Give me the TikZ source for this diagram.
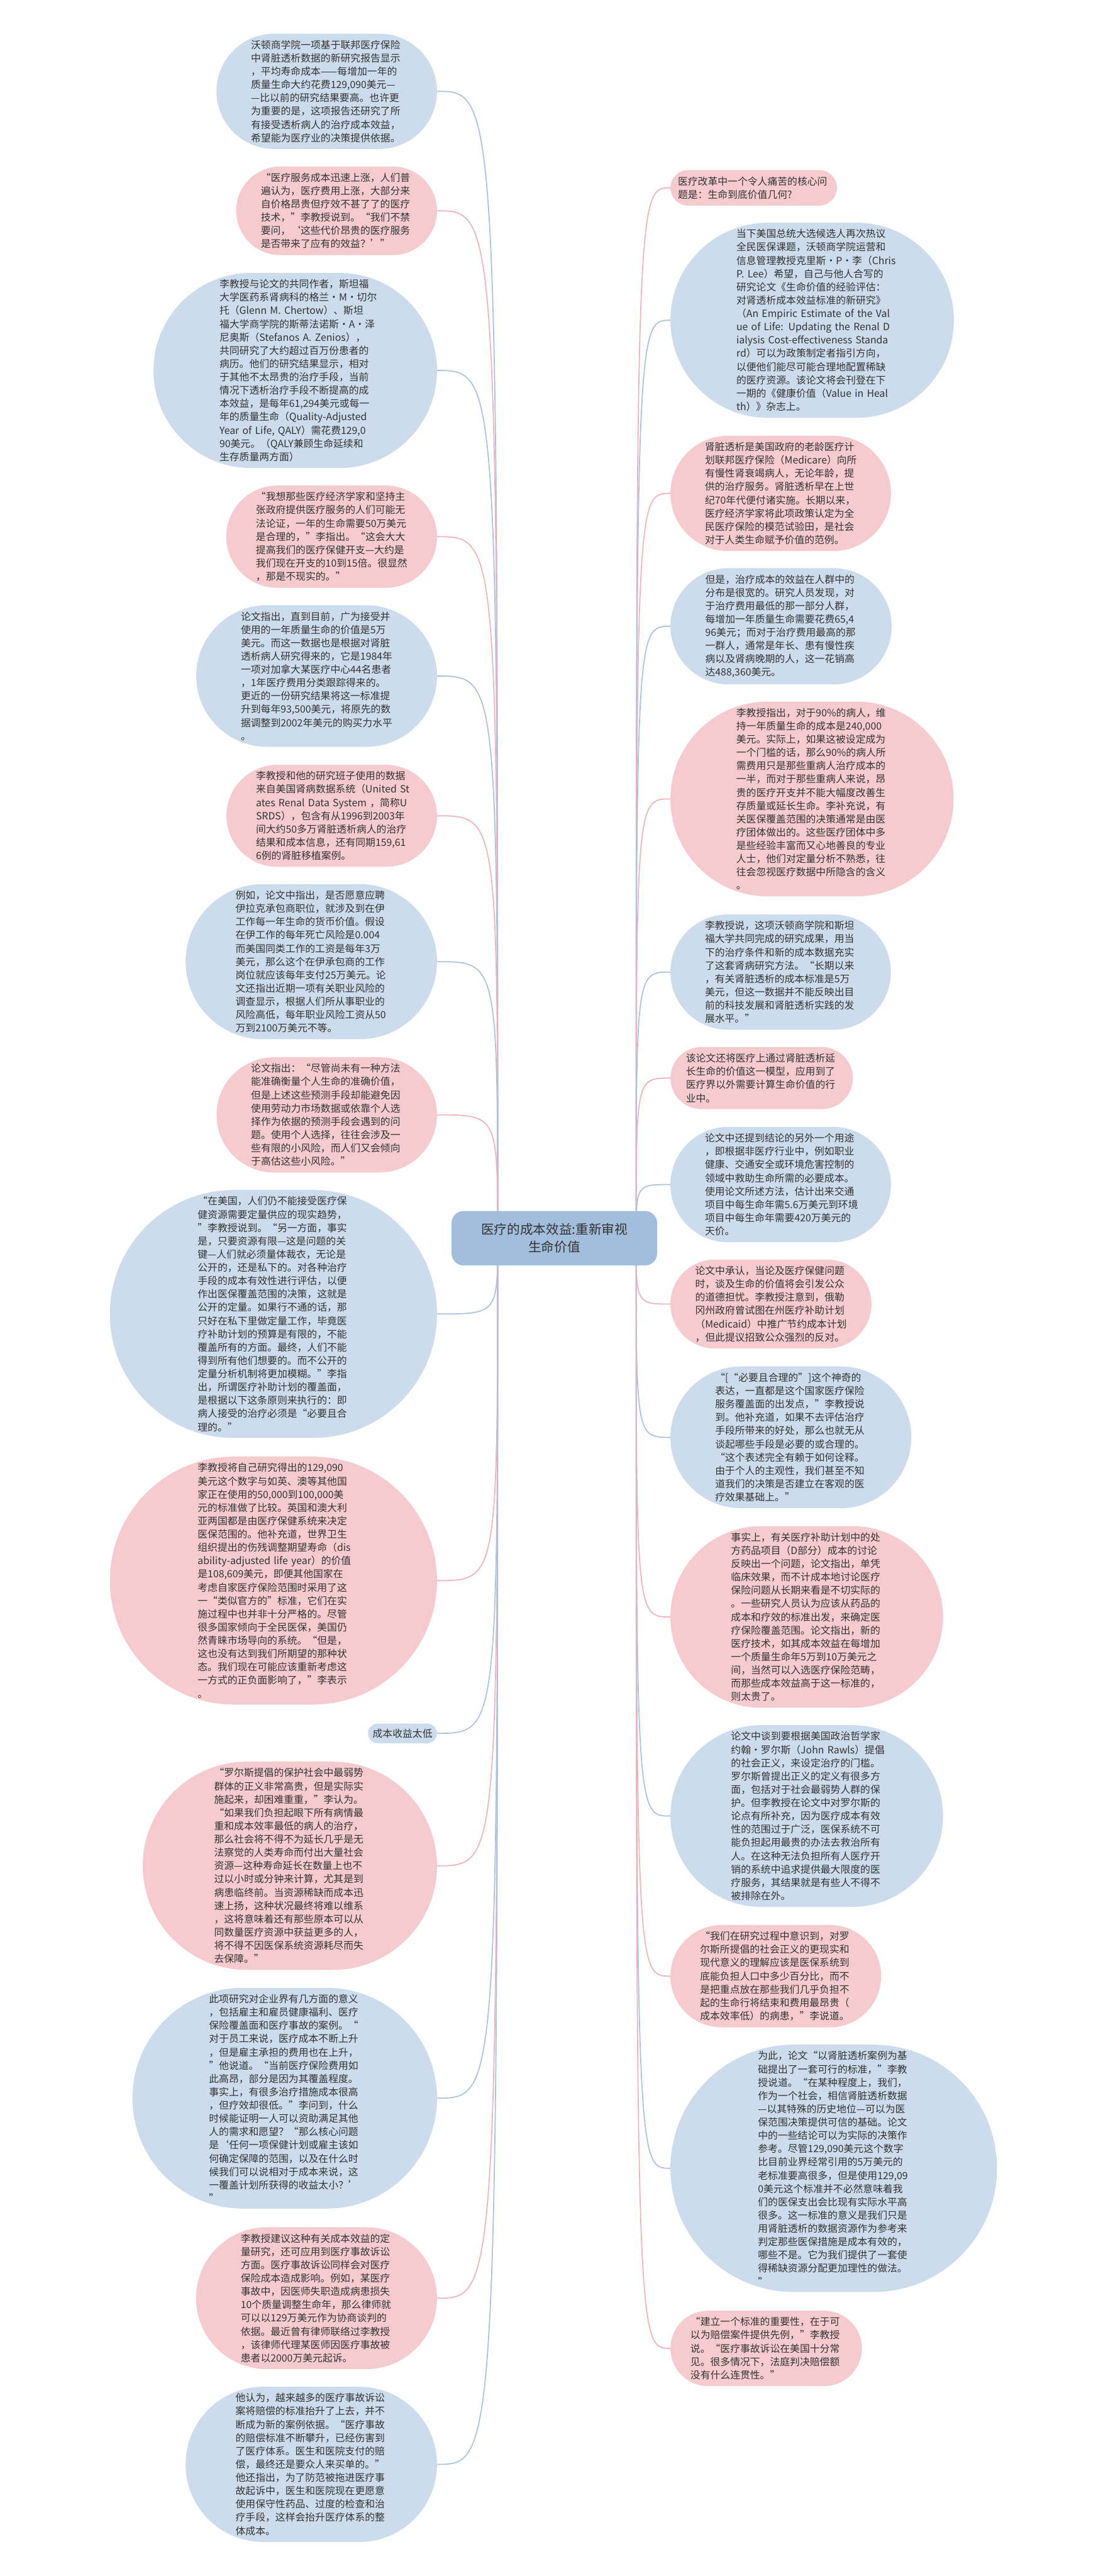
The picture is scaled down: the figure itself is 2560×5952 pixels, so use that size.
\documentclass[tikz,border=0pt]{standalone}
\usepackage{fontspec}
\setmainfont{Noto Sans CJK SC}
\usetikzlibrary{shapes.misc,backgrounds}
\definecolor{ink}{HTML}{333333}
\definecolor{skyfill}{HTML}{CCDCEC}
\definecolor{rosefill}{HTML}{F5CBCF}
\definecolor{rootfill}{HTML}{A2BEDC}
\definecolor{skyline}{HTML}{A9C3DF}
\definecolor{roseline}{HTML}{F0B3B9}
\tikzset{leaf/.style={rounded rectangle,fill=skyfill,text=ink,inner xsep=8pt,inner ysep=15pt,font=\fontsize{23}{30.7}\selectfont},
  roseleaf/.style={leaf,fill=rosefill},
  note/.style={leaf,align=left,text width=350pt},rosenote/.style={note,fill=rosefill},
  root/.style={rectangle,rounded corners=28pt,fill=rootfill,text=ink,align=center,minimum width=475pt,minimum height=126pt,font=\fontsize{30}{40}\selectfont},
  lnk/.style={draw=skyline,line width=2.5pt},roselnk/.style={lnk,draw=roseline}}

\begin{document}
\begin{tikzpicture}[x=1pt,y=1pt]
\useasboundingbox (0,0) rectangle (2560,-5952);
\node[root] (root) at (1281,-2861) {医疗的成本效益:重新审视\\生命价值};
\coordinate (lh) at (1150,-2861);\coordinate (rh) at (1470,-2861);
% left side
\node[note,anchor=east] (wharton) at (1010,-211) {沃顿商学院一项基于联邦医疗保险\\中肾脏透析数据的新研究报告显示\\，平均寿命成本——每增加一年的\\质量生命大约花费129,090美元—\\—比以前的研究结果要高。也许更\\为重要的是，这项报告还研究了所\\有接受透析病人的治疗成本效益，\\希望能为医疗业的决策提供依据。};
\node[rosenote,anchor=east] (soaring) at (1010,-487) {“医疗服务成本迅速上涨，人们普\\遍认为，医疗费用上涨，大部分来\\自价格昂贵但疗效不甚了了的医疗\\技术，”李教授说到。“我们不禁\\要问，‘这些代价昂贵的医疗服务\\是否带来了应有的效益？’”};
\node[note,anchor=east] (coauthors) at (1010,-856) {李教授与论文的共同作者，斯坦福\\大学医药系肾病科的格兰•M•切尔\\\mbox{托（Glenn M. Chertow）、斯坦}\\福大学商学院的斯蒂法诺斯•A•泽\\\mbox{尼奥斯（Stefanos A. Zenios），}\\共同研究了大约超过百万份患者的\\病历。他们的研究结果显示，相对\\于其他不太昂贵的治疗手段，当前\\情况下透析治疗手段不断提高的成\\本效益，是每年61,294美元或每一\\\mbox{年的质量生命（Quality-Adjusted}\\\mbox{Year of Life, QALY）需花费129,0}\\90美元。（QALY兼顾生命延续和\\生存质量两方面）};
\node[rosenote,anchor=east] (halfmillion) at (1010,-1240) {“我想那些医疗经济学家和坚持主\\张政府提供医疗服务的人们可能无\\法论证，一年的生命需要50万美元\\是合理的，”李指出。“这会大大\\提高我们的医疗保健开支—大约是\\我们现在开支的10到15倍。很显然\\，那是不现实的。”};
\node[note,anchor=east] (oldnorm) at (1010,-1562) {论文指出，直到目前，广为接受并\\使用的一年质量生命的价值是5万\\美元。而这一数据也是根据对肾脏\\透析病人研究得来的，它是1984年\\一项对加拿大某医疗中心44名患者\\，1年医疗费用分类跟踪得来的。\\更近的一份研究结果将这一标准提\\升到每年93,500美元，将原先的数\\据调整到2002年美元的购买力水平\\。};
\node[rosenote,anchor=east] (usrds) at (1010,-1885) {李教授和他的研究班子使用的数据\\\mbox{来自美国肾病数据系统（United St}\\\mbox{ates Renal Data System ，简称U}\\SRDS），包含有从1996到2003年\\间大约50多万肾脏透析病人的治疗\\结果和成本信息，还有同期159,61\\6例的肾脏移植案例。};
\node[note,anchor=east] (iraq) at (1010,-2222) {例如，论文中指出，是否愿意应聘\\伊拉克承包商职位，就涉及到在伊\\工作每一年生命的货币价值。假设\\在伊工作的每年死亡风险是0.004\\而美国同类工作的工资是每年3万\\美元，那么这个在伊承包商的工作\\岗位就应该每年支付25万美元。论\\文还指出近期一项有关职业风险的\\调查显示，根据人们所从事职业的\\风险高低，每年职业风险工资从50\\万到2100万美元不等。};
\node[rosenote,anchor=east] (smallrisk) at (1010,-2576) {论文指出：“尽管尚未有一种方法\\能准确衡量个人生命的准确价值，\\但是上述这些预测手段却能避免因\\使用劳动力市场数据或依靠个人选\\择作为依据的预测手段会遇到的问\\题。使用个人选择，往往会涉及一\\些有限的小风险，而人们又会倾向\\于高估这些小风险。”};
\node[note,anchor=east] (rationing) at (1010,-3036) {“在美国，人们仍不能接受医疗保\\健资源需要定量供应的现实趋势，\\”李教授说到。“另一方面，事实\\是，只要资源有限—这是问题的关\\键—人们就必须量体裁衣，无论是\\公开的，还是私下的。对各种治疗\\手段的成本有效性进行评估，以便\\作出医保覆盖范围的决策，这就是\\公开的定量。如果行不通的话，那\\只好在私下里做定量工作，毕竟医\\疗补助计划的预算是有限的，不能\\覆盖所有的方面。最终，人们不能\\得到所有他们想要的。而不公开的\\定量分析机制将更加模糊。”李指\\出，所谓医疗补助计划的覆盖面，\\是根据以下这条原则来执行的：即\\病人接受的治疗必须是“必要且合\\理的。”};
\node[rosenote,anchor=east] (abroad) at (1010,-3652) {李教授将自己研究得出的129,090\\美元这个数字与如英、澳等其他国\\家正在使用的50,000到100,000美\\元的标准做了比较。英国和澳大利\\亚两国都是由医疗保健系统来决定\\医保范围的。他补充道，世界卫生\\\mbox{组织提出的伤残调整期望寿命（dis}\\\mbox{ability-adjusted life year）的价值}\\是108,609美元，即便其他国家在\\考虑自家医疗保险范围时采用了这\\一“类似官方的”标准，它们在实\\施过程中也并非十分严格的。尽管\\很多国家倾向于全民医保，美国仍\\然青睐市场导向的系统。“但是，\\这也没有达到我们所期望的那种状\\态。我们现在可能应该重新考虑这\\一方式的正负面影响了，”李表示\\。};
\node[leaf,inner ysep=12pt,anchor=east] (lowgain) at (1010,-4005) {成本收益太低};
\node[rosenote,anchor=east] (rawlsquote) at (1010,-4311) {“罗尔斯提倡的保护社会中最弱势\\群体的正义非常高贵，但是实际实\\施起来，却困难重重，”李认为。\\“如果我们负担起眼下所有病情最\\重和成本效率最低的病人的治疗，\\那么社会将不得不为延长几乎是无\\法察觉的人类寿命而付出大量社会\\资源—这种寿命延长在数量上也不\\过以小时或分钟来计算，尤其是到\\病患临终前。当资源稀缺而成本迅\\速上扬，这种状况最终将难以维系\\，这将意味着还有那些原本可以从\\同数量医疗资源中获益更多的人，\\将不得不因医保系统资源耗尽而失\\去保障。”};
\node[note,anchor=east] (business) at (1010,-4848) {此项研究对企业界有几方面的意义\\，包括雇主和雇员健康福利、医疗\\保险覆盖面和医疗事故的案例。“\\对于员工来说，医疗成本不断上升\\，但是雇主承担的费用也在上升，\\”他说道。“当前医疗保险费用如\\此高昂，部分是因为其覆盖程度。\\事实上，有很多治疗措施成本很高\\，但疗效却很低。”李问到，什么\\时候能证明一人可以资助满足其他\\人的需求和愿望？“那么核心问题\\是‘任何一项保健计划或雇主该如\\何确定保障的范围，以及在什么时\\候我们可以说相对于成本来说，这\\一覆盖计划所获得的收益太小？’\\”};
\node[rosenote,anchor=east] (lawsuit) at (1010,-5310) {李教授建议这种有关成本效益的定\\量研究，还可应用到医疗事故诉讼\\方面。医疗事故诉讼同样会对医疗\\保险成本造成影响。例如，某医疗\\事故中，因医师失职造成病患损失\\10个质量调整生命年，那么律师就\\可以以129万美元作为协商谈判的\\依据。最近曾有律师联络过李教授\\，该律师代理某医师因医疗事故被\\患者以2000万美元起诉。};
\node[note,anchor=east] (damages) at (1010,-5694) {他认为，越来越多的医疗事故诉讼\\案将赔偿的标准抬升了上去，并不\\断成为新的案例依据。“医疗事故\\的赔偿标准不断攀升，已经伤害到\\了医疗体系。医生和医院支付的赔\\偿，最终还是要众人来买单的。”\\他还指出，为了防范被拖进医疗事\\故起诉中，医生和医院现在更愿意\\使用保守性药品、过度的检查和治\\疗手段，这样会抬升医疗体系的整\\体成本。};
% right side
\node[rosenote,anchor=west] (question) at (1549,-434) {医疗改革中一个令人痛苦的核心问\\题是：生命到底价值几何?};
\node[note,anchor=west] (paper) at (1549,-740) {当下美国总统大选候选人再次热议\\全民医保课题，沃顿商学院运营和\\\mbox{信息管理教授克里斯•P•李（Chris}\\\mbox{P. Lee）希望，自己与他人合写的}\\研究论文《生命价值的经验评估：\\对肾透析成本效益标准的新研究》\\\mbox{（An Empiric Estimate of the Val}\\\mbox{ue of Life: Updating the Renal D}\\\mbox{ialysis Cost-effectiveness Standa}\\rd）可以为政策制定者指引方向，\\以便他们能尽可能合理地配置稀缺\\的医疗资源。该论文将会刊登在下\\\mbox{一期的《健康价值（Value in Heal}\\th）》杂志上。};
\node[rosenote,anchor=west] (medicare) at (1549,-1140) {肾脏透析是美国政府的老龄医疗计\\划联邦医疗保险（Medicare）向所\\有慢性肾衰竭病人，无论年龄，提\\供的治疗服务。肾脏透析早在上世\\纪70年代便付诸实施。长期以来，\\医疗经济学家将此项政策认定为全\\民医疗保险的模范试验田，是社会\\对于人类生命赋予价值的范例。};
\node[note,anchor=west] (spread) at (1549,-1447) {但是，治疗成本的效益在人群中的\\分布是很宽的。研究人员发现，对\\于治疗费用最低的那一部分人群，\\每增加一年质量生命需要花费65,4\\96美元；而对于治疗费用最高的那\\一群人，通常是年长、患有慢性疾\\病以及肾病晚期的人，这一花销高\\达488,360美元。};
\node[rosenote,anchor=west] (threshold) at (1549,-1846) {李教授指出，对于90\%的病人，维\\持一年质量生命的成本是240,000\\美元。实际上，如果这被设定成为\\一个门槛的话，那么90\%的病人所\\需费用只是那些重病人治疗成本的\\一半，而对于那些重病人来说，昂\\贵的医疗开支并不能大幅度改善生\\存质量或延长生命。李补充说，有\\关医保覆盖范围的决策通常是由医\\疗团体做出的。这些医疗团体中多\\是些经验丰富而又心地善良的专业\\人士，他们对定量分析不熟悉，往\\往会忽视医疗数据中所隐含的含义\\。};
\node[note,anchor=west] (method) at (1549,-2246) {李教授说，这项沃顿商学院和斯坦\\福大学共同完成的研究成果，用当\\下的治疗条件和新的成本数据充实\\了这套肾病研究方法。“长期以来\\，有关肾脏透析的成本标准是5万\\美元，但这一数据并不能反映出目\\前的科技发展和肾脏透析实践的发\\展水平。”};
\node[rosenote,anchor=west] (industry) at (1549,-2491) {该论文还将医疗上通过肾脏透析延\\长生命的价值这一模型，应用到了\\医疗界以外需要计算生命价值的行\\业中。};
\node[note,anchor=west] (otheruse) at (1549,-2737) {论文中还提到结论的另外一个用途\\，即根据非医疗行业中，例如职业\\健康、交通安全或环境危害控制的\\领域中救助生命所需的必要成本。\\使用论文所述方法，估计出来交通\\项目中每生命年需5.6万美元到环境\\项目中每生命年需要420万美元的\\天价。};
\node[rosenote,anchor=west] (oregon) at (1549,-3013) {论文中承认，当论及医疗保健问题\\时，谈及生命的价值将会引发公众\\的道德担忧。李教授注意到，俄勒\\冈州政府曾试图在州医疗补助计划\\（Medicaid）中推广节约成本计划\\，但此提议招致公众强烈的反对。};
\node[note,anchor=west] (necessary) at (1549,-3321) {“[“必要且合理的”]这个神奇的\\表达，一直都是这个国家医疗保险\\服务覆盖面的出发点，”李教授说\\到。他补充道，如果不去评估治疗\\手段所带来的好处，那么也就无从\\谈起哪些手段是必要的或合理的。\\“这个表述完全有赖于如何诠释。\\由于个人的主观性，我们甚至不知\\道我们的决策是否建立在客观的医\\疗效果基础上。”};
\node[rosenote,anchor=west] (partd) at (1549,-3736) {事实上，有关医疗补助计划中的处\\方药品项目（D部分）成本的讨论\\反映出一个问题，论文指出，单凭\\临床效果，而不计成本地讨论医疗\\保险问题从长期来看是不切实际的\\。一些研究人员认为应该从药品的\\成本和疗效的标准出发，来确定医\\疗保险覆盖范围。论文指出，新的\\医疗技术，如其成本效益在每增加\\一个质量生命年5万到10万美元之\\间，当然可以入选医疗保险范畴，\\而那些成本效益高于这一标准的，\\则太贵了。};
\node[note,anchor=west] (rawls) at (1549,-4196) {论文中谈到要根据美国政治哲学家\\\mbox{约翰•罗尔斯（John Rawls）提倡}\\的社会正义，来设定治疗的门槛。\\罗尔斯曾提出正义的定义有很多方\\面，包括对于社会最弱势人群的保\\护。但李教授在论文中对罗尔斯的\\论点有所补充，因为医疗成本有效\\性的范围过于广泛，医保系统不可\\能负担起用最贵的办法去救治所有\\人。在这种无法负担所有人医疗开\\销的系统中追求提供最大限度的医\\疗服务，其结果就是有些人不得不\\被排除在外。};
\node[rosenote,anchor=west] (share) at (1549,-4566) {“我们在研究过程中意识到，对罗\\尔斯所提倡的社会正义的更现实和\\现代意义的理解应该是医保系统到\\底能负担人口中多少百分比，而不\\是把重点放在那些我们几乎负担不\\起的生命行将结束和费用最昂贵（\\成本效率低）的病患，”李说道。};
\node[note,anchor=west] (standard) at (1549,-5010) {为此，论文“以肾脏透析案例为基\\础提出了一套可行的标准，”李教\\授说道。“在某种程度上，我们，\\作为一个社会，相信肾脏透析数据\\—以其特殊的历史地位—可以为医\\保范围决策提供可信的基础。论文\\中的一些结论可以为实际的决策作\\参考。尽管129,090美元这个数字\\比目前业界经常引用的5万美元的\\老标准要高很多，但是使用129,09\\0美元这个标准并不必然意味着我\\们的医保支出会比现有实际水平高\\很多。这一标准的意义是我们只是\\用肾脏透析的数据资源作为参考来\\判定那些医保措施是成本有效的，\\哪些不是。它为我们提供了一套使\\得稀缺资源分配更加理性的做法。\\”};
\node[rosenote,anchor=west] (precedent) at (1549,-5426) {“建立一个标准的重要性，在于可\\以为赔偿案件提供先例，”李教授\\说。“医疗事故诉讼在美国十分常\\见。很多情况下，法庭判决赔偿额\\没有什么连贯性。”};
% connectors behind the boxes
\begin{scope}[on background layer]
\fill[white] (0,0) rectangle (2560,-5952);
\draw[lnk] (wharton.east) .. controls (lh |- wharton.east) .. (lh);
\draw[roselnk] (soaring.east) .. controls (lh |- soaring.east) .. (lh);
\draw[lnk] (coauthors.east) .. controls (lh |- coauthors.east) .. (lh);
\draw[roselnk] (halfmillion.east) .. controls (lh |- halfmillion.east) .. (lh);
\draw[lnk] (oldnorm.east) .. controls (lh |- oldnorm.east) .. (lh);
\draw[roselnk] (usrds.east) .. controls (lh |- usrds.east) .. (lh);
\draw[lnk] (iraq.east) .. controls (lh |- iraq.east) .. (lh);
\draw[roselnk] (smallrisk.east) .. controls (lh |- smallrisk.east) .. (lh);
\draw[lnk] (rationing.east) .. controls (lh |- rationing.east) .. (lh);
\draw[roselnk] (abroad.east) .. controls (lh |- abroad.east) .. (lh);
\draw[lnk] (lowgain.east) .. controls (lh |- lowgain.east) .. (lh);
\draw[roselnk] (rawlsquote.east) .. controls (lh |- rawlsquote.east) .. (lh);
\draw[lnk] (business.east) .. controls (lh |- business.east) .. (lh);
\draw[roselnk] (lawsuit.east) .. controls (lh |- lawsuit.east) .. (lh);
\draw[lnk] (damages.east) .. controls (lh |- damages.east) .. (lh);
\draw[roselnk] (question.west) .. controls (rh |- question.west) .. (rh);
\draw[lnk] (paper.west) .. controls (rh |- paper.west) .. (rh);
\draw[roselnk] (medicare.west) .. controls (rh |- medicare.west) .. (rh);
\draw[lnk] (spread.west) .. controls (rh |- spread.west) .. (rh);
\draw[roselnk] (threshold.west) .. controls (rh |- threshold.west) .. (rh);
\draw[lnk] (method.west) .. controls (rh |- method.west) .. (rh);
\draw[roselnk] (industry.west) .. controls (rh |- industry.west) .. (rh);
\draw[lnk] (otheruse.west) .. controls (rh |- otheruse.west) .. (rh);
\draw[roselnk] (oregon.west) .. controls (rh |- oregon.west) .. (rh);
\draw[lnk] (necessary.west) .. controls (rh |- necessary.west) .. (rh);
\draw[roselnk] (partd.west) .. controls (rh |- partd.west) .. (rh);
\draw[lnk] (rawls.west) .. controls (rh |- rawls.west) .. (rh);
\draw[roselnk] (share.west) .. controls (rh |- share.west) .. (rh);
\draw[lnk] (standard.west) .. controls (rh |- standard.west) .. (rh);
\draw[roselnk] (precedent.west) .. controls (rh |- precedent.west) .. (rh);
\end{scope}
\end{tikzpicture}
\end{document}
